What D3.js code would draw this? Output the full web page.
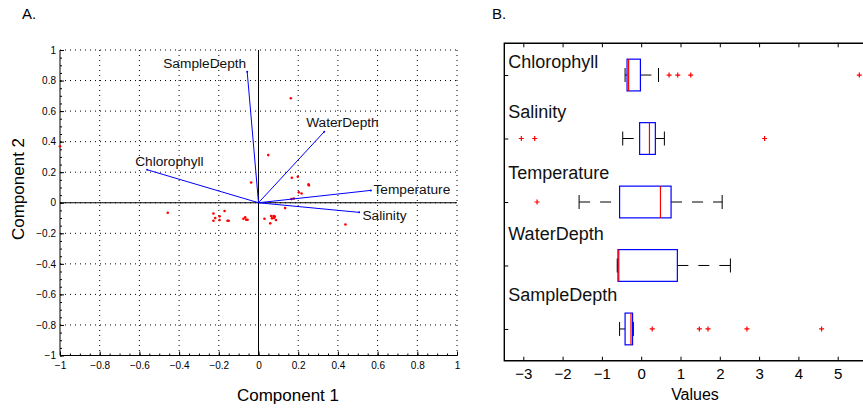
<!DOCTYPE html>
<html>
<head>
<meta charset="utf-8">
<script src="https://cdn.jsdelivr.net/npm/d3@7"></script>
<style>
  body { margin: 0; background: #fff; }
  svg { display: block; font-family: "Liberation Sans", Arial, Helvetica, sans-serif; }
</style>
</head>
<body>
<div id="chart"></div>
<script>
// Panel A: PCA biplot (loadings + scores)
var loadNames = ["SampleDepth", "WaterDepth", "Chlorophyll", "Temperature", "Salinity"];
var loadX = [-0.057, 0.331, -0.561, 0.566, 0.507];
var loadY = [0.858, 0.465, 0.216, 0.081, -0.063];

var scoreX = [0.049, -0.037, 0.168, 0.198, 0.252, 0.254, 0.203, 0.217, 0.166, 0.178,
              0.134, 0.438, 0.030, 0.059, 0.064, 0.076, 0.082, 0.068, 0.078, 0.088,
              -0.457, -0.227, -0.171, -0.196, -0.218, -0.196, -0.227, -0.156, -0.150,
              -0.076, -0.067, -0.062, -0.055, 0.163, -1.0];
var scoreY = [0.312, 0.133, 0.164, 0.170, 0.120, 0.114, 0.068, 0.061, 0.024, 0.028,
              -0.035, -0.142, -0.105, -0.135, -0.087, -0.087, -0.091, -0.102, -0.100, -0.113,
              -0.065, -0.070, -0.054, -0.089, -0.100, -0.113, -0.118, -0.118, -0.118,
              -0.105, -0.096, -0.111, -0.111, 0.684, 0.37];

var compTicks = [-1, -0.8, -0.6, -0.4, -0.2, 0, 0.2, 0.4, 0.6, 0.8, 1];

// Panel B: boxplots of standardized values
var boxNames = ["Chlorophyll", "Salinity", "Temperature", "WaterDepth", "SampleDepth"];
var whiskLo = [-0.41, -0.47, -1.58, -0.61, -0.55];
var q1      = [-0.36, -0.04, -0.55, -0.59, -0.41];
var medians = [-0.32, 0.21, 0.49, -0.57, -0.26];
var q3      = [-0.02, 0.36, 0.76, 0.92, -0.22];
var whiskHi = [0.44, 0.59, 2.06, 2.27, -0.20];
var outliers = [[0.71, 0.93, 1.26, 5.55], [-3.05, -2.71, 3.14], [-2.65], [], [0.28, 1.48, 1.70, 2.69, 4.59]];
var valueTicks = [-3, -2, -1, 0, 1, 2, 3, 4, 5];

var W = 863, H = 408;
var svg = d3.select("#chart").append("svg").attr("width", W).attr("height", H);

function fmt(v) { return d3.format("")(v).replace("-", "\u2212"); }

// ---------------- Panel A ----------------
var ax = d3.scaleLinear().domain([-1, 1]).range([60, 457]);
var ay = d3.scaleLinear().domain([-1, 1]).range([355.5, 50]);

svg.append("text").attr("x", 22).attr("y", 19).attr("font-size", 15).text("A.");

var gA = svg.append("g");
// dotted grid
gA.selectAll(".gx").data(compTicks.slice(1)).enter().append("line")
  .attr("x1", d => ax(d)).attr("x2", d => ax(d)).attr("y1", ay(1)).attr("y2", ay(-1))
  .attr("stroke", "#000").attr("stroke-width", 1).attr("stroke-dasharray", "1,4");
gA.selectAll(".gy").data(compTicks.slice(1)).enter().append("line")
  .attr("y1", d => ay(d)).attr("y2", d => ay(d)).attr("x1", ax(-1)).attr("x2", ax(1))
  .attr("stroke", "#000").attr("stroke-width", 1).attr("stroke-dasharray", "1,4");

// axes (ticks inward)
var minor = d3.range(-1, 1.0001, 0.05);
gA.append("g").attr("transform", "translate(0," + ay(-1) + ")")
  .call(d3.axisBottom(ax).tickValues(minor).tickSize(-2).tickFormat(""))
  .call(g => g.select(".domain").remove());
gA.append("g").attr("transform", "translate(" + ax(-1) + ",0)")
  .call(d3.axisLeft(ay).tickValues(minor).tickSize(-2).tickFormat(""))
  .call(g => g.select(".domain").remove());
gA.append("g").attr("transform", "translate(0," + ay(-1) + ")")
  .call(d3.axisBottom(ax).tickValues(compTicks).tickSize(-4).tickPadding(6).tickFormat(fmt))
  .call(g => g.select(".domain").attr("d", "M" + ax(-1) + ",0H" + ax(1)))
  .call(g => g.selectAll("text").attr("font-size", 10).attr("font-family", "Liberation Sans, Arial").attr("fill", "#000"));
gA.append("g").attr("transform", "translate(" + ax(-1) + ",0)")
  .call(d3.axisLeft(ay).tickValues(compTicks).tickSize(-4).tickPadding(4).tickFormat(fmt))
  .call(g => g.select(".domain").attr("d", "M0," + ay(-1) + "V" + ay(1)))
  .call(g => g.selectAll("text").attr("font-size", 10).attr("font-family", "Liberation Sans, Arial").attr("fill", "#000"));

// zero lines
gA.append("line").attr("x1", ax(-1)).attr("x2", ax(1)).attr("y1", ay(0)).attr("y2", ay(0)).attr("stroke", "#000");
gA.append("line").attr("x1", ax(0)).attr("x2", ax(0)).attr("y1", ay(1)).attr("y2", ay(-1)).attr("stroke", "#000");

// scores
gA.selectAll(".pt").data(scoreX).enter().append("circle")
  .attr("cx", (d, i) => ax(d)).attr("cy", (d, i) => ay(scoreY[i])).attr("r", 1.3).attr("fill", "#f00");

// loading vectors
var labelOffsets = [[-1, -3.4, "end"], [-18, -4.4, "start"], [-12, -3.7, "start"], [2.6, 3.4, "start"], [3.3, 8, "start"]];
loadNames.forEach(function(name, i) {
  gA.append("line").attr("x1", ax(0)).attr("y1", ay(0)).attr("x2", ax(loadX[i])).attr("y2", ay(loadY[i]))
    .attr("stroke", "#00f").attr("stroke-width", 1);
  gA.append("circle").attr("cx", ax(loadX[i])).attr("cy", ay(loadY[i])).attr("r", 1).attr("fill", "#00f");
  gA.append("text").attr("x", ax(loadX[i]) + labelOffsets[i][0]).attr("y", ay(loadY[i]) + labelOffsets[i][1])
    .attr("text-anchor", labelOffsets[i][2]).attr("font-size", 13.7).attr("fill", "#111").text(name);
});

svg.append("text").attr("x", 288).attr("y", 400.5).attr("text-anchor", "middle").attr("font-size", 17).text("Component 1");
svg.append("text").attr("transform", "translate(24,189) rotate(-90)").attr("text-anchor", "middle").attr("font-size", 17).text("Component 2");

// ---------------- Panel B ----------------
var bx = d3.scaleLinear().domain([-3, 5]).range([523.3, 837.7]);
var by = d3.scalePoint().domain(boxNames).range([43.3, 360.7]).padding(0.5);
var bLeft = 504.3, bTop = 43.3, bBottom = 360.7, bRight = 880;

svg.append("text").attr("x", 492).attr("y", 19).attr("font-size", 15).text("B.");

var gB = svg.append("g");
gB.append("g").attr("transform", "translate(0," + bBottom + ")")
  .call(d3.axisBottom(bx).tickValues(valueTicks).tickSize(-4).tickPadding(8).tickFormat(fmt))
  .call(g => g.select(".domain").remove())
  .call(g => g.selectAll("text").attr("font-size", 15).attr("font-family", "Liberation Sans, Arial").attr("fill", "#000"));
gB.append("g").attr("transform", "translate(0," + bTop + ")")
  .call(d3.axisTop(bx).tickValues(valueTicks).tickSize(-4).tickFormat(""))
  .call(g => g.select(".domain").remove());
gB.append("g").attr("transform", "translate(" + bLeft + ",0)")
  .call(d3.axisLeft(by).tickSize(-4).tickFormat(""))
  .call(g => g.select(".domain").remove());
gB.append("path").attr("d", "M" + bRight + "," + bTop + "H" + bLeft + "V" + bBottom + "H" + bRight)
  .attr("fill", "none").attr("stroke", "#000").attr("stroke-width", 1.4);

var labelLift = [7, 20.3, 22.7, 25, 28.3];
var half = by.step() * 0.25;
boxNames.forEach(function(name, i) {
  var y = by(name);
  gB.append("text").attr("x", 508.3).attr("y", y - labelLift[i]).attr("font-size", 18).attr("fill", "#111").text(name);
  // whiskers (dashed)
  gB.append("line").attr("x1", bx(whiskLo[i])).attr("x2", bx(q1[i])).attr("y1", y).attr("y2", y)
    .attr("stroke", "#000").attr("stroke-dasharray", "11,10");
  gB.append("line").attr("x1", bx(q3[i])).attr("x2", bx(whiskHi[i])).attr("y1", y).attr("y2", y)
    .attr("stroke", "#000").attr("stroke-dasharray", "11,10");
  [whiskLo[i], whiskHi[i]].forEach(function(v) {
    gB.append("line").attr("x1", bx(v)).attr("x2", bx(v)).attr("y1", y - 7).attr("y2", y + 7).attr("stroke", "#000");
  });
  gB.append("rect").attr("x", bx(q1[i])).attr("y", y - half).attr("width", bx(q3[i]) - bx(q1[i])).attr("height", 2 * half)
    .attr("fill", "none").attr("stroke", "#00f").attr("stroke-width", 1.2);
  gB.append("line").attr("x1", bx(medians[i])).attr("x2", bx(medians[i])).attr("y1", y - half).attr("y2", y + half)
    .attr("stroke", "#f00").attr("stroke-width", 1.2);
  outliers[i].forEach(function(v) {
    gB.append("path").attr("d", "M" + (bx(v) - 2.5) + "," + y + "h5M" + bx(v) + "," + (y - 2.5) + "v5")
      .attr("stroke", "#f00").attr("stroke-width", 1.2);
  });
});

svg.append("text").attr("x", 695).attr("y", 400).attr("text-anchor", "middle").attr("font-size", 16).text("Values");
</script>
</body>
</html>
